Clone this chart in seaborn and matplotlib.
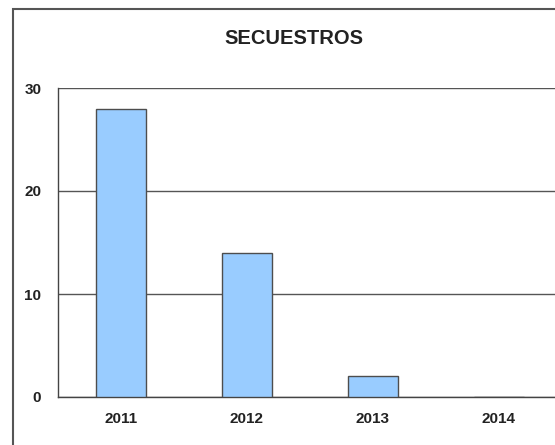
import pandas as pd
import numpy as np
import matplotlib
matplotlib.use("Agg")
import matplotlib.pyplot as plt
import seaborn as sns
from matplotlib.patches import Rectangle

years = ["2011", "2012", "2013", "2014"]
secuestros = [28, 14, 2, 0]
title = "SECUESTROS"

sns.set_style("white")
plt.rcParams['font.family'] = ['Liberation Sans', 'DejaVu Sans']

df = pd.DataFrame({"year": years, "secuestros": secuestros})

fig = plt.figure(figsize=(5.55, 4.45), dpi=100)
# outer chart frame (cropped at right/bottom like the source)
fig.patches.append(Rectangle((13 / 555, -0.2), 1.5, 1.2 - 9 / 445,
                             transform=fig.transFigure, fill=False,
                             edgecolor="#555555", linewidth=1.5, zorder=0))
ax = fig.add_axes([58 / 555, 48 / 445, 504 / 555, 309 / 445])

sns.barplot(data=df, x="year", y="secuestros", color="#99CCFF", width=0.4,
            saturation=1, edgecolor="#4d4d4d", linewidth=1, ax=ax, zorder=3)

ax.set_ylim(0, 30)
ax.set_xlim(-0.5, 3.5)
ax.set_yticks([0, 10, 20, 30])
ax.yaxis.grid(True, color="#555555", linewidth=1)
ax.set_axisbelow(True)
ax.spines[['right', 'top']].set_visible(False)
for s in ['left', 'bottom']:
    ax.spines[s].set_color("#444444")
    ax.spines[s].set_linewidth(1)

ax.set_xticks(range(len(years)), years)
ax.set_xticks([-0.5, 0.5, 1.5, 2.5], minor=True)
ax.tick_params(axis='x', which='major', length=0, pad=11, labelsize=11)
ax.tick_params(axis='x', which='minor', length=4, width=1, color="#444444", direction='out')
ax.tick_params(axis='y', length=5, width=1, color="#444444", direction='out', pad=7, labelsize=11)
for lab in ax.get_xticklabels() + ax.get_yticklabels():
    lab.set_fontweight('bold')
    lab.set_color("#222222")

ax.set_xlabel("")
ax.set_ylabel("")
fig.text(294 / 555, 1 - 38 / 445, title, ha="center", va="center",
         fontsize=14.5, fontweight="bold", color="#222222")

fig.savefig("out.png", dpi=100)
